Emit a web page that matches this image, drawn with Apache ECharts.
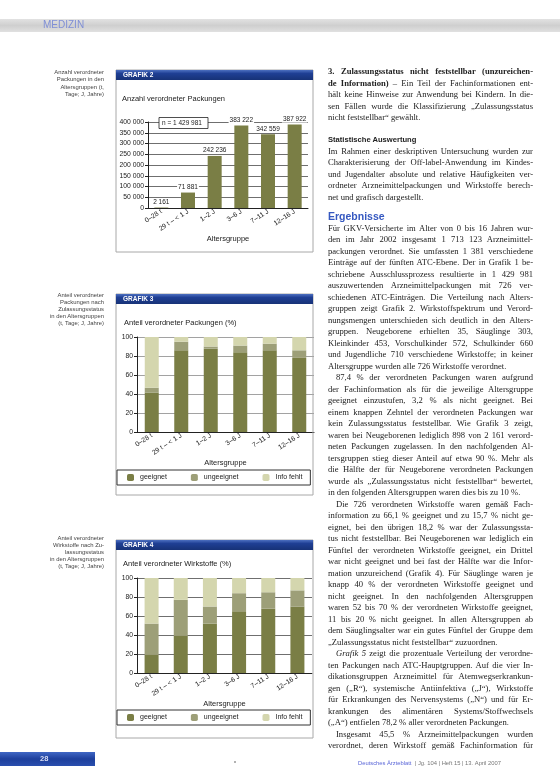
<!DOCTYPE html>
<html><head><meta charset="utf-8">
<script src="https://cdn.jsdelivr.net/npm/echarts@6/dist/echarts.min.js"></script>
<style>
html,body{margin:0;padding:0;background:#fff;}
#page{position:relative;width:560px;height:777px;overflow:hidden;background:#fff;}
#chart{position:absolute;left:0;top:0;width:560px;height:777px;}
#txt{position:absolute;left:0;top:0;width:560px;height:777px;pointer-events:none;}
.ln{position:absolute;white-space:nowrap;font-family:'Liberation Serif',serif;font-size:8.6px;line-height:11.5px;color:#222;transform-origin:0 50%;}
.h1{font-family:'Liberation Sans',sans-serif;font-weight:bold;font-size:7.6px;color:#222;}
.h2{font-family:'Liberation Sans',sans-serif;font-weight:bold;font-size:10.5px;color:#3558c0;}
.cap{position:absolute;width:60px;right:456px;text-align:right;font-family:'Liberation Sans',sans-serif;font-size:5.9px;line-height:7.2px;color:#444;}
</style></head>
<body><div id="page"><div id="chart"></div><div id="txt"></div></div>
<script>
// ---- data ----
const categories = ['0–28 t', '29 t – < 1 J', '1–2 J', '3–6 J', '7–11 J', '12–16 J'];
const packungen = [2161, 71881, 242236, 383222, 342559, 387922];
const packTotal = 1429981;
const statusNames = ['geeignet', 'ungeeignet', 'Info fehlt'];
const packGeeignet = [41.6, 86, 88, 84, 86, 78];
const packUngeeignet = [5, 9, 2, 7, 7, 8];
const packInfo = [53.4, 5, 10, 9, 7, 14];
const wirkGeeignet = [19, 39, 52, 65, 68, 70];
const wirkUngeeignet = [33, 38, 18, 19, 17, 17];
const wirkInfo = [48, 23, 30, 16, 15, 13];
const countAxis = {min: 0, max: 400000, interval: 50000};
const pctAxis = {min: 0, max: 100, interval: 20};

const fmt = v => String(v).replace(/\B(?=(\d{3})+(?!\d))/g, ' ');
const OLIVE = '#7a7e45', MID = '#9d9f78', LIGHT = '#d4d6ae';
const FONT = "'Liberation Sans', Arial, sans-serif";

const chart = echarts.init(document.getElementById('chart'), null, {renderer: 'canvas'});

function xAx(i, gap) {
  return {type: 'category', gridIndex: i, data: categories,
    axisLine: {lineStyle: {color: '#222', width: 1}}, axisTick: {show: false},
    axisLabel: {rotate: 33, fontSize: 6.8, margin: 3, color: '#222', fontFamily: FONT, interval: 0},
    name: 'Altersgruppe', nameLocation: 'middle', nameGap: gap,
    nameTextStyle: {fontSize: 7.5, color: '#222', fontFamily: FONT}};
}
function yAx(i, ax, gridColor, f) {
  return {type: 'value', gridIndex: i, min: ax.min, max: ax.max, interval: ax.interval,
    axisLine: {show: true, lineStyle: {color: '#222', width: 1}},
    axisTick: {show: true, length: 3, lineStyle: {color: '#222'}},
    axisLabel: {fontSize: 6.8, margin: 4, color: '#222', fontFamily: FONT, formatter: f},
    splitLine: {show: true, lineStyle: {color: gridColor, width: 0.8}}};
}
function stack(name, xi, data, color, st) {
  return {name, type: 'bar', stack: st, xAxisIndex: xi, yAxisIndex: xi, data,
    barWidth: 14, itemStyle: {color}, emphasis: {disabled: true}};
}
function panel(y, h, label) {
  return [
    {type: 'rect', z: 1, shape: {x: 116, y: y, width: 197, height: h}, style: {fill: 'none', stroke: '#a8a8a8', lineWidth: 1}},
    {type: 'rect', z: 5, shape: {x: 116, y: y, width: 197, height: 10},
      style: {fill: new echarts.graphic.LinearGradient(0, 0, 0, 1, [{offset: 0, color: '#4c6fc0'}, {offset: 0.35, color: '#1f3f94'}, {offset: 1, color: '#173277'}])}},
    {type: 'text', z: 6, x: 123, y: y + 1.8, style: {text: label, fontSize: 6.5, fontWeight: 'bold', fill: '#fff', fontFamily: FONT}}
  ];
}
function legend(top) {
  return {data: statusNames, left: 117, top: top, orient: 'horizontal', itemWidth: 7, itemHeight: 7, itemGap: 24,
    padding: [4, 8, 4, 10], borderColor: '#333', borderWidth: 1, selectedMode: false,
    textStyle: {fontSize: 7, color: '#222', fontFamily: FONT, padding: [0, 0, 0, 1]}};
}

const option = {
  animation: false,
  grid: [
    {left: 148, top: 122, width: 160, height: 86},
    {left: 137, top: 337, width: 177, height: 95},
    {left: 137, top: 578, width: 175, height: 95}
  ],
  xAxis: [xAx(0, 21), xAx(1, 24), xAx(2, 24)],
  yAxis: [yAx(0, countAxis, '#4a4a4a', fmt), yAx(1, pctAxis, '#8a8a8a'), yAx(2, pctAxis, '#4a4a4a')],
  legend: [legend(470), legend(710)],
  series: [
    {name: 'Packungen', type: 'bar', xAxisIndex: 0, yAxisIndex: 0, data: packungen, barWidth: 14,
      itemStyle: {color: OLIVE}, emphasis: {disabled: true},
      label: {show: true, position: 'top', distance: 2, fontSize: 6.5, color: '#222', fontFamily: FONT,
        backgroundColor: '#fff', padding: [0, 1], formatter: p => fmt(p.value)}},
    stack(statusNames[0], 1, packGeeignet, OLIVE, 'p'),
    stack(statusNames[1], 1, packUngeeignet, MID, 'p'),
    stack(statusNames[2], 1, packInfo, LIGHT, 'p'),
    stack(statusNames[0], 2, wirkGeeignet, OLIVE, 'w'),
    stack(statusNames[1], 2, wirkUngeeignet, MID, 'w'),
    stack(statusNames[2], 2, wirkInfo, LIGHT, 'w')
  ],
  graphic: [
    {type: 'rect', z: 0, shape: {x: 0, y: 19, width: 560, height: 13},
      style: {fill: new echarts.graphic.LinearGradient(0, 0, 0, 1, [{offset: 0, color: '#e2e2e2'}, {offset: 0.5, color: '#cfcfcf'}, {offset: 1, color: '#e0e0e0'}])}},
    {type: 'text', z: 2, x: 43, y: 20.5, style: {text: 'MEDIZIN', fontSize: 10, fill: '#7f8fd6', fontFamily: FONT}},
    ...panel(70, 182, 'GRAFIK 2'),
    ...panel(294, 201, 'GRAFIK 3'),
    ...panel(540, 198, 'GRAFIK 4'),
    {type: 'text', z: 6, x: 122, y: 95, style: {text: 'Anzahl verordneter Packungen', fontSize: 7.5, fill: '#222', fontFamily: FONT}},
    {type: 'text', z: 6, x: 124, y: 319, style: {text: 'Anteil verordneter Packungen (%)', fontSize: 7.5, fill: '#222', fontFamily: FONT}},
    {type: 'text', z: 6, x: 123, y: 560, style: {text: 'Anteil verordneter Wirkstoffe (%)', fontSize: 7.5, fill: '#222', fontFamily: FONT}},
    {type: 'rect', z: 20, shape: {x: 159, y: 117.5, width: 49, height: 11}, style: {fill: '#fff', stroke: '#222', lineWidth: 0.8}},
    {type: 'text', z: 21, x: 162, y: 119.5, style: {text: 'n = ' + fmt(packTotal), fontSize: 6.5, fill: '#222', fontFamily: FONT}},
    {type: 'rect', z: 0, shape: {x: 0, y: 752, width: 95, height: 14},
      style: {fill: new echarts.graphic.LinearGradient(0, 0, 0, 1, [{offset: 0, color: '#3f66c4'}, {offset: 0.5, color: '#1d3f9c'}, {offset: 1, color: '#2a4fae'}])}},
    {type: 'text', z: 2, x: 40, y: 755, style: {text: '28', fontSize: 7.5, fontWeight: 'bold', fill: '#d8def5', fontFamily: FONT}},
    {type: 'circle', z: 2, shape: {cx: 235, cy: 762, r: 1}, style: {fill: '#999'}},
    {type: 'text', z: 2, x: 358, y: 757.5, style: {rich: {a: {fontSize: 5.8, fill: '#5a66d8', fontFamily: FONT}, b: {fontSize: 5.8, fill: '#777', fontFamily: FONT}},
      text: '{a|Deutsches Ärzteblatt} {b|| Jg. 104 | Heft 15 | 13. April 2007}'}}
  ]
};
chart.setOption(option);

// ---- article text ----
const txt = document.getElementById('txt');
const X0 = 328, W = 205;
const article = [
  ['j', '<b>3. Zulassungsstatus nicht feststellbar (unzureichen-</b>', 72],
  ['j', '<b>de Information)</b> – Ein Teil der Fachinformationen ent-'],
  ['j', 'hält keine Hinweise zur Anwendung bei Kindern. In die-'],
  ['j', 'sen Fällen wurde die Klassifizierung „Zulassungsstatus'],
  ['l', 'nicht feststellbar“ gewählt.'],
  ['h1', 'Statistische Auswertung', 140],
  ['j', 'Im Rahmen einer deskriptiven Untersuchung wurden zur'],
  ['j', 'Charakterisierung der Off-label-Anwendung im Kindes-'],
  ['j', 'und Jugendalter absolute und relative Häufigkeiten ver-'],
  ['j', 'ordneter Arzneimittelpackungen und Wirkstoffe berech-'],
  ['l', 'net und grafisch dargestellt.'],
  ['h2', 'Ergebnisse', 217],
  ['j', 'Für GKV-Versicherte im Alter von 0 bis 16 Jahren wur-'],
  ['j', 'den im Jahr 2002 insgesamt 1 713 123 Arzneimittel-'],
  ['j', 'packungen verordnet. Sie umfassten 1 381 verschiedene'],
  ['j', 'Einträge auf der fünften ATC-Ebene. Der in Grafik 1 be-'],
  ['j', 'schriebene Ausschlussprozess resultierte in 1 429 981'],
  ['j', 'auszuwertenden Arzneimittelpackungen mit 726 ver-'],
  ['j', 'schiedenen ATC-Einträgen. Die Verteilung nach Alters-'],
  ['j', 'gruppen zeigt Grafik 2. Wirkstoffspektrum und Verord-'],
  ['j', 'nungsmengen unterschieden sich deutlich in den Alters-'],
  ['j', 'gruppen. Neugeborene erhielten 35, Säuglinge 303,'],
  ['j', 'Kleinkinder 453, Vorschulkinder 572, Schulkinder 660'],
  ['j', 'und Jugendliche 710 verschiedene Wirkstoffe; in keiner'],
  ['l', 'Altersgruppe wurden alle 726 Wirkstoffe verordnet.'],
  ['i', '87,4 % der verordneten Packungen waren aufgrund'],
  ['j', 'der Fachinformation als für die jeweilige Altersgruppe'],
  ['j', 'geeignet einzustufen, 3,2 % als nicht geeignet. Bei'],
  ['j', 'einem knappen Zehntel der verordneten Packungen war'],
  ['j', 'kein Zulassungsstatus feststellbar. Wie Grafik 3 zeigt,'],
  ['j', 'waren bei Neugeborenen lediglich 898 von 2 161 verord-'],
  ['j', 'neten Packungen zugelassen. In den nachfolgenden Al-'],
  ['j', 'tersgruppen stieg dieser Anteil auf etwa 90 %. Mehr als'],
  ['j', 'die Hälfte der für Neugeborene verordneten Packungen'],
  ['j', 'wurde als „Zulassungsstatus nicht feststellbar“ bewertet,'],
  ['l', 'in den folgenden Altersgruppen waren dies bis zu 10 %.'],
  ['i', 'Die 726 verordneten Wirkstoffe waren gemäß Fach-'],
  ['j', 'information zu 66,1 % geeignet und zu 15,7 % nicht ge-'],
  ['j', 'eignet, bei den übrigen 18,2 % war der Zulassungssta-'],
  ['j', 'tus nicht feststellbar. Bei Neugeborenen war lediglich ein'],
  ['j', 'Fünftel der verordneten Wirkstoffe geeignet, ein Drittel'],
  ['j', 'war nicht geeignet und bei fast der Hälfte war die Infor-'],
  ['j', 'mation unzureichend (Grafik 4). Für Säuglinge waren je'],
  ['j', 'knapp 40 % der verordneten Wirkstoffe geeignet und'],
  ['j', 'nicht geeignet. In den nachfolgenden Altersgruppen'],
  ['j', 'waren 52 bis 70 % der verordneten Wirkstoffe geeignet,'],
  ['j', '11 bis 20 % nicht geeignet. In allen Altersgruppen ab'],
  ['j', 'dem Säuglingsalter war ein gutes Fünftel der Gruppe dem'],
  ['l', '„Zulassungsstatus nicht feststellbar“ zuzuordnen.'],
  ['i', '<i>Grafik 5</i> zeigt die prozentuale Verteilung der verordne-'],
  ['j', 'ten Packungen nach ATC-Hauptgruppen. Auf die vier In-'],
  ['j', 'dikationsgruppen Arzneimittel für Atemwegserkrankun-'],
  ['j', 'gen („R“), systemische Antiinfektiva („J“), Wirkstoffe'],
  ['j', 'für Erkrankungen des Nervensystems („N“) und für Er-'],
  ['j', 'krankungen des alimentären Systems/Stoffwechsels'],
  ['l', '(„A“) entfielen 78,2 % aller verordneten Packungen.'],
  ['i', 'Insgesamt 45,5 % Arzneimittelpackungen wurden'],
  ['j', 'verordnet, deren Wirkstoff gemäß Fachinformation für']
];
let y = 0;
article.forEach(([t, html, yy]) => {
  if (yy !== undefined) y = yy; else y += 11.5;
  const d = document.createElement('div');
  d.className = 'ln' + (t === 'h1' ? ' h1' : t === 'h2' ? ' h2' : '');
  const indent = t === 'i' ? 8 : 0;
  d.style.left = (X0 + indent) + 'px';
  d.style.top = (y - 5.75) + 'px';
  d.innerHTML = html;
  txt.appendChild(d);
  const w = W - indent;
  const nat = d.scrollWidth;
  if (t === 'j' || t === 'i') {
    if (nat > w) { d.style.transform = 'scaleX(' + (w / nat) + ')'; }
    else {
      d.style.width = w + 'px';
      d.style.whiteSpace = 'normal';
      d.style.textAlign = 'justify';
      d.style.textAlignLast = 'justify';
      d.style.height = '11.5px';
      d.style.overflow = 'hidden';
    }
  } else if (nat > w) { d.style.transform = 'scaleX(' + (w / nat) + ')'; }
});

// ---- side captions ----
const captions = [
  [69.2, ['Anzahl verordneter', 'Packungen in den', 'Altersgruppen (t,', 'Tage; J, Jahre)']],
  [291.5, ['Anteil verordneter', 'Packungen nach', 'Zulassungsstatus', 'in den Altersgruppen', '(t, Tage; J, Jahre)']],
  [534.5, ['Anteil verordneter', 'Wirkstoffe nach Zu-', 'lassungsstatus', 'in den Altersgruppen', '(t, Tage; J, Jahre)']]
];
captions.forEach(([top, lines]) => {
  const d = document.createElement('div');
  d.className = 'cap';
  d.style.top = top + 'px';
  d.innerHTML = lines.join('<br>');
  txt.appendChild(d);
});
</script></body></html>
